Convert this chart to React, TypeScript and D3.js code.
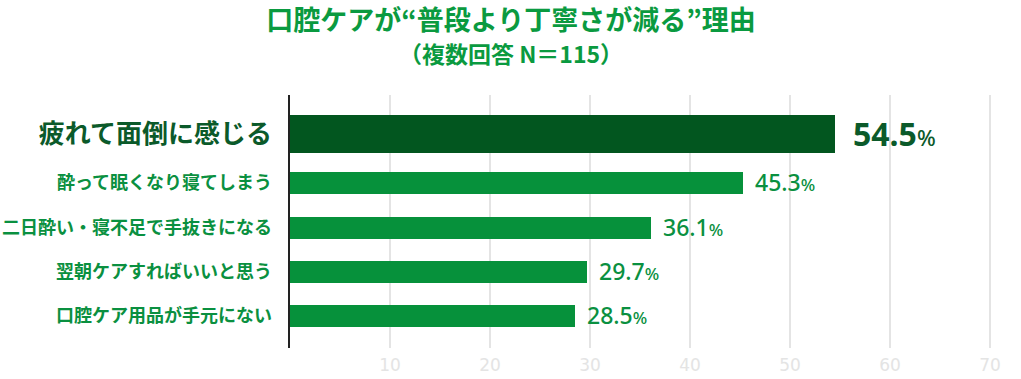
import React from "react";
import * as d3 from "d3";

const categories = [
  "疲れて面倒に感じる",
  "酔って眠くなり寝てしまう",
  "二日酔い・寝不足で手抜きになる",
  "翌朝ケアすればいいと思う",
  "口腔ケア用品が手元にない",
];
const values = [54.5, 45.3, 36.1, 29.7, 28.5];
const ticks = [10, 20, 30, 40, 50, 60, 70];
const titleText = "口腔ケアが“普段より丁寧さが減る”理由";
const subtitleText = "（複数回答 N＝115）";

const W = 1021;
const H = 379;
const FONT = "'Noto Sans CJK JP', 'Noto Sans', sans-serif";
const DARK = "#02561f";
const LIGHT = "#06913b";
const TEXT_DARK = "#0b5a2a";
const TEXT_LIGHT = "#0a9040";

export default function App() {
  const x = d3.scaleLinear().domain([0, 70]).range([290, 990]);
  const centers = [134, 183, 228, 272, 316];
  const y = (i: number) => centers[i];
  const gridTop = 95;
  const gridBottom = 348;

  return (
    <svg width={W} height={H} style={{ position: "absolute", left: 0, top: 0 }} fontFamily={FONT}>
      <rect width={W} height={H} fill="#fff" />
      <text x={511} y={29.5} textAnchor="middle" fontSize={27} fontWeight={700} fill="#0a9a40">
        {titleText}
      </text>
      <text x={511} y={63} textAnchor="middle" fontSize={23} fontWeight={700} fill="#0a9a40">
        {subtitleText}
      </text>
      {ticks.map((t) => (
        <g key={t}>
          <line x1={x(t)} x2={x(t)} y1={gridTop} y2={gridBottom} stroke="#e4e4e4" strokeWidth={2} />
          <text x={x(t)} y={371} textAnchor="middle" fontSize={17} fill="#e4e4e4" fontFamily="'DejaVu Sans', sans-serif">
            {t}
          </text>
        </g>
      ))}
      {values.map((v, i) => {
        const h = i === 0 ? 38 : 22;
        const cy = y(i);
        return (
          <rect key={i} x={x(0)} y={cy - h / 2} width={x(v) - x(0)} height={h} fill={i === 0 ? DARK : LIGHT} />
        );
      })}
      <line x1={289} x2={289} y1={gridTop} y2={gridBottom} stroke="#222" strokeWidth={2} />
      {categories.map((c, i) => (
        <text
          key={c}
          x={272}
          y={y(i)}
          dy="0.36em"
          textAnchor="end"
          fontSize={i === 0 ? 26 : 18}
          fontWeight={700}
          fill={i === 0 ? TEXT_DARK : TEXT_LIGHT}
        >
          {c}
        </text>
      ))}
      {values.map((v, i) => (
        <text
          key={i}
          x={x(v) + (i === 0 ? 18 : 12)}
          y={y(i)}
          dy="0.36em"
          fontSize={i === 0 ? 32 : 23}
          fontWeight={i === 0 ? 700 : 500}
          fill={i === 0 ? TEXT_DARK : TEXT_LIGHT}
          fontFamily="'Noto Sans', sans-serif"
        >
          {v.toFixed(1)}
          <tspan fontSize={i === 0 ? 22 : 17} fontWeight={500}>%</tspan>
        </text>
      ))}
    </svg>
  );
}
